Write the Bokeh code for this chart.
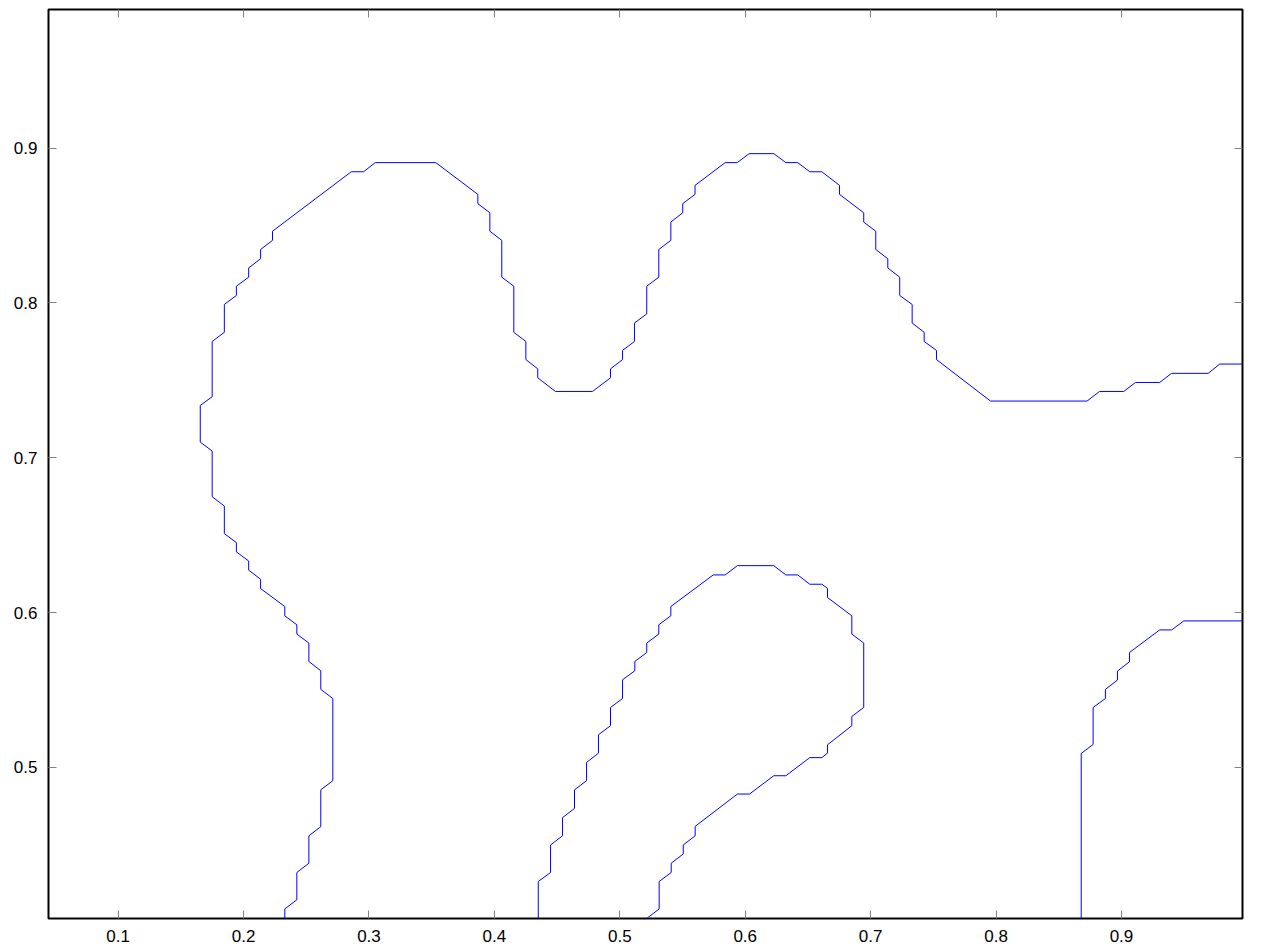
from bokeh.plotting import figure
from bokeh.models import Range1d, FixedTicker, LinearAxis
from bokeh.embed import file_html
from bokeh.resources import INLINE

# ---- data ----
x_ticks = [0.1, 0.2, 0.3, 0.4, 0.5, 0.6, 0.7, 0.8, 0.9]
y_ticks = [0.5, 0.6, 0.7, 0.8, 0.9]
x_range = (0.0445, 0.9965)
y_range = (0.4024, 0.9895)

# big contour (left lobe, two humps, right tail)
contour_a_x = [0.2329, 0.2329, 0.2425, 0.2425, 0.2521, 0.2521, 0.2616, 0.2616, 0.2712, 0.2712,
               0.2616, 0.2616, 0.2521, 0.2521, 0.2425, 0.2425, 0.2329, 0.2329, 0.2136, 0.2136,
               0.2041, 0.2041, 0.1943, 0.1943, 0.1847, 0.1847, 0.1750, 0.1750, 0.1655, 0.1655,
               0.1750, 0.1750, 0.1847, 0.1847, 0.1943, 0.1943, 0.2041, 0.2041, 0.2136, 0.2136,
               0.2231, 0.2231, 0.2859, 0.2957, 0.3050, 0.3533, 0.3868, 0.3868, 0.3964, 0.3964,
               0.4059, 0.4059, 0.4155, 0.4155, 0.4251, 0.4251, 0.4346, 0.4346, 0.4487, 0.4782,
               0.4926, 0.4926, 0.5022, 0.5022, 0.5117, 0.5117, 0.5215, 0.5215, 0.5311, 0.5311,
               0.5407, 0.5407, 0.5502, 0.5502, 0.5600, 0.5600, 0.5840, 0.5936, 0.6032, 0.6228,
               0.6324, 0.6419, 0.6515, 0.6611, 0.6752, 0.6752, 0.6945, 0.6945, 0.7041, 0.7041,
               0.7137, 0.7137, 0.7232, 0.7232, 0.7331, 0.7331, 0.7427, 0.7427, 0.7525, 0.7525,
               0.7956, 0.8726, 0.8825, 0.9018, 0.9112, 0.9305, 0.9399, 0.9691, 0.9784, 0.9965]
contour_a_y = [0.4024, 0.4086, 0.4145, 0.4321, 0.4381, 0.4558, 0.4617, 0.4855, 0.4914, 0.5445,
               0.5504, 0.5624, 0.5684, 0.5803, 0.5861, 0.5921, 0.5979, 0.6039, 0.6155, 0.6215,
               0.6274, 0.6333, 0.6392, 0.6452, 0.6510, 0.6688, 0.6748, 0.7043, 0.7101, 0.7338,
               0.7394, 0.7751, 0.7810, 0.7990, 0.8048, 0.8108, 0.8166, 0.8226, 0.8285, 0.8345,
               0.8404, 0.8463, 0.8847, 0.8847, 0.8906, 0.8906, 0.8701, 0.8641, 0.8582, 0.8463,
               0.8404, 0.8166, 0.8108, 0.7810, 0.7751, 0.7634, 0.7574, 0.7516, 0.7428, 0.7428,
               0.7516, 0.7574, 0.7634, 0.7693, 0.7751, 0.7870, 0.7929, 0.8108, 0.8166, 0.8345,
               0.8404, 0.8522, 0.8582, 0.8641, 0.8701, 0.8759, 0.8906, 0.8906, 0.8964, 0.8964,
               0.8906, 0.8906, 0.8847, 0.8847, 0.8759, 0.8701, 0.8582, 0.8522, 0.8463, 0.8345,
               0.8285, 0.8226, 0.8166, 0.8048, 0.7990, 0.7870, 0.7810, 0.7751, 0.7693, 0.7634,
               0.7366, 0.7366, 0.7428, 0.7428, 0.7486, 0.7486, 0.7545, 0.7545, 0.7605, 0.7605]

# inner loop (bottom centre)
contour_b_x = [0.4350, 0.4350, 0.4448, 0.4448, 0.4543, 0.4543, 0.4639, 0.4639, 0.4735, 0.4735,
               0.4830, 0.4830, 0.4926, 0.4926, 0.5022, 0.5022, 0.5120, 0.5120, 0.5215, 0.5215,
               0.5311, 0.5311, 0.5407, 0.5407, 0.5745, 0.5840, 0.5938, 0.6228, 0.6324, 0.6419,
               0.6515, 0.6611, 0.6656, 0.6656, 0.6850, 0.6850, 0.6945, 0.6945, 0.6850, 0.6850,
               0.6656, 0.6656, 0.6611, 0.6515, 0.6324, 0.6228, 0.6034, 0.5938, 0.5601, 0.5601,
               0.5506, 0.5506, 0.5410, 0.5410, 0.5314, 0.5314, 0.5215]
contour_b_y = [0.4024, 0.4263, 0.4321, 0.4499, 0.4558, 0.4675, 0.4735, 0.4855, 0.4914, 0.5032,
               0.5092, 0.5211, 0.5269, 0.5387, 0.5445, 0.5566, 0.5624, 0.5684, 0.5742, 0.5803,
               0.5861, 0.5921, 0.5979, 0.6039, 0.6243, 0.6243, 0.6303, 0.6303, 0.6243, 0.6243,
               0.6183, 0.6183, 0.6156, 0.6097, 0.5979, 0.5861, 0.5803, 0.5387, 0.5329, 0.5269,
               0.5146, 0.5092, 0.5063, 0.5063, 0.4946, 0.4946, 0.4828, 0.4828, 0.4619, 0.4558,
               0.4499, 0.4441, 0.4381, 0.4321, 0.4263, 0.4086, 0.4024]

# bottom-right contour
contour_c_x = [0.8679, 0.8679, 0.8774, 0.8774, 0.8872, 0.8872, 0.8968, 0.8968, 0.9064, 0.9064,
               0.9305, 0.9401, 0.9497, 0.9965]
contour_c_y = [0.4024, 0.5090, 0.5148, 0.5387, 0.5445, 0.5504, 0.5564, 0.5622, 0.5682, 0.5742,
               0.5888, 0.5888, 0.5946, 0.5946]

# ---- figure ----
p = figure(width=1256, height=950, output_backend="svg", toolbar_location=None,
           x_range=Range1d(*x_range), y_range=Range1d(*y_range),
           min_border_left=48, min_border_right=14, min_border_top=9, min_border_bottom=32)
p.grid.visible = False
p.background_fill_color = "white"
p.border_fill_color = "white"
p.outline_line_color = "black"
p.outline_line_width = 2

p.multi_line(xs=[contour_a_x, contour_b_x, contour_c_x],
             ys=[contour_a_y, contour_b_y, contour_c_y],
             line_color="#0000ff", line_width=1)

FONT = "Liberation Sans"

def style(ax, ticks, show_labels):
    ax.ticker = FixedTicker(ticks=ticks)
    ax.axis_line_color = None
    ax.major_tick_in = 8
    ax.major_tick_out = 0
    ax.major_tick_line_color = "#808080"
    ax.major_tick_line_width = 1
    ax.minor_tick_line_color = None
    if show_labels:
        ax.major_label_text_font = FONT
        ax.major_label_text_font_size = "17px"
        ax.major_label_text_color = "black"
    else:
        ax.major_label_text_font_size = "0px"
        ax.major_label_text_color = None
        ax.major_label_standoff = 0

xb = p.xaxis[0]
yl = p.yaxis[0]
style(xb, x_ticks, True)
style(yl, y_ticks, True)
xb.major_label_standoff = 11
yl.major_label_standoff = 11

xt = LinearAxis()
style(xt, x_ticks, False)
p.add_layout(xt, "above")
yr = LinearAxis()
style(yr, y_ticks, False)
p.add_layout(yr, "right")

open("out.html", "w").write(file_html(p, INLINE))
